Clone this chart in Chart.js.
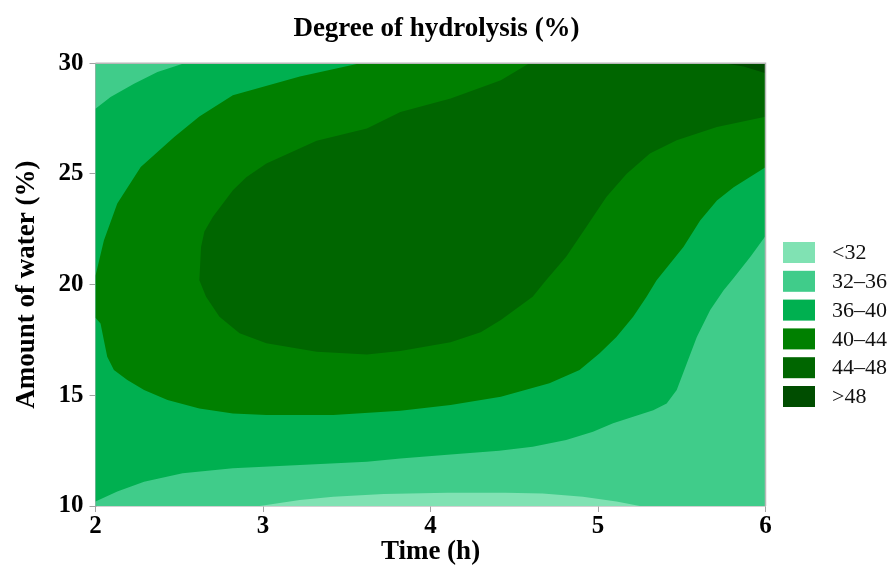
<!DOCTYPE html>
<html>
<head>
<meta charset="utf-8">
<script src="https://cdn.jsdelivr.net/npm/chart.js@4.4.1/dist/chart.umd.min.js"></script>
<style>
html,body{margin:0;padding:0;background:#fff;}
#wrap{width:893px;height:568px;}
</style>
</head>
<body>
<div id="wrap"><canvas id="c" width="893" height="568"></canvas></div>
<script>
// ---------- text ----------
const titleText = 'Degree of hydrolysis (%)';
const xTitle = 'Time (h)';
const yTitle = 'Amount of water (%)';

// ---------- tick labels ----------
const xTicks = [2, 3, 4, 5, 6];
const yTicks = [10, 15, 20, 25, 30];

// ---------- bands (legend) ----------
const bandLabels = ['<32', '32–36', '36–40', '40–44', '44–48', '>48'];
const bandColors = ['#80e2b3', '#40cc8a', '#00b050', '#008000', '#006600', '#004d00'];

// ---------- contour regions (Time h, Water %), region where value >= lower bound ----------
const regionAll = [[2,10],[6,10],[6,30],[2,30]];

const regionAbove32 = [[2,10],[2.98,10],[3.22,10.27],[3.42,10.42],[3.72,10.54],[4.1,10.6],
  [4.45,10.6],[4.67,10.57],[4.91,10.42],[5.11,10.2],[5.25,10],[6,10],[6,30],[2,30]];

const regionAbove36 = [[2,10.2],[2.13,10.65],[2.29,11.1],[2.52,11.48],[2.82,11.7],[3.22,11.85],
  [3.62,12.0],[3.82,12.15],[4.12,12.33],[4.41,12.5],[4.61,12.68],[4.81,12.98],[4.97,13.36],
  [5.09,13.74],[5.21,14.03],[5.33,14.33],[5.41,14.63],[5.47,15.24],[5.53,16.44],[5.59,17.64],
  [5.67,18.85],[5.75,19.75],[5.81,20.3],[5.91,21.26],[6,22.2],[6,30],[2.53,30],[2.37,29.61],
  [2.23,29.08],[2.09,28.48],[2,27.95]];

const regionAbove40 = [[3.58,30],[3.22,29.4],[2.82,28.56],[2.62,27.6],[2.47,26.67],[2.27,25.32],
  [2.13,23.67],[2.05,22.0],[2.0,20.4],[2.0,18.5],[2.03,18.25],[2.05,17.49],[2.07,16.74],
  [2.11,16.14],[2.19,15.69],[2.29,15.24],[2.43,14.79],[2.62,14.41],[2.82,14.18],[3.02,14.11],
  [3.42,14.11],[3.82,14.3],[4.12,14.56],[4.42,14.93],[4.71,15.54],[4.89,16.14],[5.01,16.9],
  [5.11,17.64],[5.21,18.55],[5.29,19.45],[5.35,20.2],[5.51,21.7],[5.61,22.9],[5.71,23.8],
  [5.81,24.4],[6,25.3],[6,30]];

const regionAbove44 = [[4.59,30],[4.42,29.23],[4.12,28.41],[3.82,27.8],[3.62,27.05],[3.32,26.5],
  [3.02,25.47],[2.9,24.85],[2.82,24.27],[2.70,23.06],[2.65,22.4],[2.63,21.7],[2.62,20.2],
  [2.66,19.45],[2.74,18.55],[2.86,17.8],[3.02,17.35],[3.32,16.97],[3.62,16.85],[3.82,17.0],
  [4.12,17.4],[4.3,17.85],[4.42,18.4],[4.61,19.45],[4.69,20.2],[4.81,21.26],[4.93,22.6],
  [5.05,23.96],[5.17,25.0],[5.31,25.92],[5.47,26.52],[5.71,27.12],[6,27.58],[6,30]];

const regionAbove48 = [[5.75,30],[5.87,29.85],[6,29.55],[6,30]];

const regions = [regionAll, regionAbove32, regionAbove36, regionAbove40, regionAbove44, regionAbove48];

const FONT = "'Liberation Serif', 'Times New Roman', serif";
const AXIS_GRAY = '#a3a3a3';

// datasets: highest band first so it is drawn on top
const datasets = regions.map((pts, i) => ({
  label: bandLabels[i],
  data: pts.map(p => ({x: p[0], y: p[1]})),
  showLine: true,
  fill: 'shape',
  backgroundColor: bandColors[i],
  borderColor: bandColors[i],
  borderWidth: 0,
  pointRadius: 0,
  pointHoverRadius: 0,
  tension: 0
})).reverse();

const layoutPlugin = {
  id: 'layoutTweaks',
  afterLayout(chart) {
    const t = chart.titleBlock;
    if (t) { t.left += 6; t.right += 6; }
  },
  afterDatasetsDraw(chart) {
    const {ctx, chartArea: a} = chart;
    ctx.save();
    ctx.strokeStyle = '#b8b8b8';
    ctx.lineWidth = 1.5;
    ctx.beginPath();
    ctx.moveTo(a.left, a.top);
    ctx.lineTo(a.right, a.top);
    ctx.lineTo(a.right, a.bottom);
    ctx.stroke();
    ctx.restore();
  },
  afterDraw(chart) {
    const ctx = chart.ctx;
    ctx.save();
    const x0 = 783, w = 32, h = 21, top0 = 242, pitch = 28.8;
    ctx.font = '22px ' + FONT;
    ctx.textBaseline = 'middle';
    ctx.textAlign = 'left';
    bandLabels.forEach((lab, i) => {
      const y = top0 + i * pitch;
      ctx.fillStyle = bandColors[i];
      ctx.fillRect(x0, y, w, h);
      ctx.fillStyle = '#111';
      ctx.fillText(lab, 832, y + h / 2 + 1);
    });
    ctx.restore();
  }
};

new Chart(document.getElementById('c'), {
  type: 'scatter',
  data: { datasets },
  options: {
    responsive: false,
    devicePixelRatio: 1,
    animation: false,
    events: [],
    layout: { padding: { left: 0, right: 127.5, top: 0, bottom: 0 } },
    plugins: {
      legend: { display: false },
      tooltip: { enabled: false },
      title: {
        display: true,
        text: titleText,
        fullSize: false,
        color: '#000',
        font: { family: FONT, size: 27, weight: 'bold', lineHeight: 1.2 },
        padding: { top: 13, bottom: 17.9 }
      }
    },
    scales: {
      x: {
        type: 'linear',
        min: 2, max: 6,
        afterBuildTicks: s => { s.ticks = xTicks.map(v => ({ value: v })); },
        afterFit: s => { s.height = 62; },
        grid: { drawOnChartArea: false, drawTicks: true, tickLength: 6, color: AXIS_GRAY },
        border: { display: true, color: AXIS_GRAY, width: 1.5 },
        ticks: { color: '#000', padding: 0, font: { family: FONT, size: 25, weight: 'bold' } },
        title: { display: true, text: xTitle, color: '#000', padding: 0,
                 font: { family: FONT, size: 27, weight: 'bold', lineHeight: 1.2 } }
      },
      y: {
        type: 'linear',
        min: 10, max: 30,
        afterBuildTicks: s => { s.ticks = yTicks.map(v => ({ value: v })); },
        afterFit: s => { s.width = 95.5; },
        grid: { drawOnChartArea: false, drawTicks: true, tickLength: 6, color: AXIS_GRAY },
        border: { display: true, color: AXIS_GRAY, width: 1.5 },
        ticks: { color: '#000', padding: 6, font: { family: FONT, size: 25, weight: 'bold' } },
        title: { display: true, text: yTitle, color: '#000', padding: { top: 11, bottom: 0 },
                 font: { family: FONT, size: 27, weight: 'bold', lineHeight: 1.2 } }
      }
    }
  },
  plugins: [layoutPlugin]
});
</script>
</body>
</html>
